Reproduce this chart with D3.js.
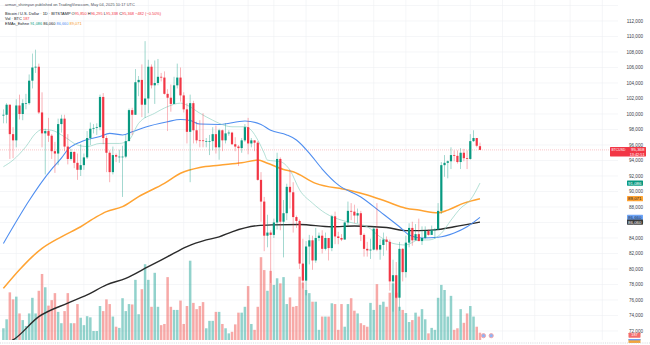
<!DOCTYPE html>
<html><head><meta charset="utf-8">
<script src="https://cdn.jsdelivr.net/npm/d3@7"></script>
<style>html,body{margin:0;padding:0;background:#fff;overflow:hidden}svg{display:block;font-family:"Liberation Sans",Arial,sans-serif}</style>
</head><body><svg id="c" width="650" height="345"></svg>
<script>
// ---- DATA (prices in thousands USD, daily candles Dec 7 2024 .. May 4 2025) ----
const open = [99.8,99.9,101.2,97.4,96.6,101.1,100.0,101.4,101.4,104.3,106.0,106.1,100.2,97.5,97.8,97.2,95.2,94.9,98.7,99.4,95.8,94.2,95.1,93.7,92.8,93.4,94.4,96.9,98.1,98.2,98.3,102.2,96.9,95.0,92.5,94.7,94.5,94.5,94.5,96.5,100.5,99.9,104.1,104.4,101.2,102.0,106.1,103.7,104.0,104.8,104.7,102.6,102.1,101.3,103.7,104.7,102.4,100.6,97.7,101.4,97.9,96.6,96.6,96.5,96.5,96.5,97.4,95.7,97.9,96.6,97.5,97.6,96.1,95.8,95.6,96.6,98.3,96.2,96.6,96.3,91.5,88.7,84.3,84.7,84.4,86.0,94.2,86.1,87.2,90.6,89.9,86.7,86.2,80.7,78.5,82.9,83.7,81.1,84.0,84.3,82.6,84.0,82.7,86.8,84.2,84.0,83.8,86.0,87.5,87.4,86.9,87.2,84.4,82.6,82.4,82.5,85.2,82.5,83.1,83.8,83.5,78.4,79.2,76.3,82.6,79.6,83.4,85.3,83.7,84.5,83.6,84.0,84.9,84.4,85.0,85.1,87.5,93.4,93.7,93.9,94.7,94.6,93.8,95.0,94.3,94.2,96.5,96.9,95.85];
const high = [100.6,101.4,101.2,98.3,101.9,102.5,101.9,102.6,105.1,107.8,108.3,106.5,102.8,98.1,99.5,97.4,96.4,99.4,99.9,99.9,97.4,95.5,95.2,94.9,96.1,94.9,97.8,98.9,98.7,98.8,102.5,102.7,97.2,95.3,95.8,94.9,95.4,95.9,97.3,100.7,100.8,105.8,104.9,106.4,109.4,107.0,106.4,106.9,107.1,105.3,105.5,103.2,103.8,104.8,106.5,106.0,102.8,101.4,102.5,101.7,99.0,99.2,100.1,96.9,97.3,98.3,98.5,98.1,98.0,98.8,97.9,97.7,97.0,96.0,96.9,98.7,99.5,96.9,96.6,96.5,92.5,89.3,87.0,85.0,86.5,95.0,94.4,88.9,91.0,92.8,91.2,86.9,86.4,83.9,83.6,84.4,84.3,85.3,84.7,85.0,84.7,84.0,87.0,87.4,84.8,84.5,86.1,88.7,88.5,88.3,87.8,87.5,84.6,83.5,83.9,85.5,88.5,83.9,84.7,84.2,83.8,81.2,80.9,83.5,82.7,84.3,85.9,86.1,85.8,86.5,85.5,85.5,85.1,85.6,85.3,88.5,93.8,94.7,94.0,95.7,95.3,95.3,95.6,95.5,95.3,97.4,97.9,96.9,96.3];
const low = [98.8,98.8,94.2,94.3,95.7,99.3,99.2,100.6,101.2,103.3,105.3,100.0,95.7,92.2,96.4,94.2,92.4,93.4,97.6,95.2,93.5,94.0,93.0,91.5,92.0,92.8,94.2,96.0,97.5,97.3,97.9,96.1,92.5,91.2,92.2,93.8,93.7,89.3,94.3,96.5,97.3,99.9,102.3,99.6,99.5,100.1,103.3,101.3,103.7,104.2,102.5,97.8,100.3,101.3,103.3,101.6,100.2,96.2,91.2,96.2,96.2,95.7,95.7,95.7,94.7,95.3,94.9,94.1,95.2,96.2,97.2,96.0,95.2,93.3,95.0,96.4,94.8,95.7,95.2,91.4,86.1,82.3,82.8,78.2,84.0,85.1,85.0,81.5,86.3,87.8,84.7,85.3,80.0,77.5,76.6,80.6,79.9,80.8,83.6,82.0,82.4,81.1,82.3,83.2,83.2,83.6,83.8,85.6,86.3,85.9,85.9,83.6,81.6,81.6,81.3,82.4,82.3,81.2,81.7,82.4,77.2,74.5,76.2,74.6,78.4,78.9,82.8,83.0,83.7,83.6,83.1,83.9,84.3,84.4,83.9,85.1,87.1,91.9,91.7,92.9,93.9,93.6,92.9,93.9,92.9,94.1,96.4,95.7,95.34];
const close = [99.9,101.2,97.4,96.6,101.1,100.0,101.4,101.4,104.3,106.0,106.1,100.2,97.5,97.8,97.2,95.2,94.9,98.7,99.4,95.8,94.2,95.1,93.7,92.8,93.4,94.4,96.9,98.1,98.2,98.3,102.2,96.9,95.0,92.5,94.7,94.5,94.5,94.5,96.5,100.5,99.9,104.1,104.4,101.2,102.0,106.1,103.7,104.0,104.8,104.7,102.6,102.1,101.3,103.7,104.7,102.4,100.6,97.7,101.4,97.9,96.6,96.55,96.5,96.5,96.5,97.4,95.7,97.9,96.6,97.5,97.6,96.1,95.8,95.6,96.6,98.3,96.2,96.6,96.3,91.5,88.7,84.3,84.7,84.4,86.0,94.2,86.1,87.2,90.6,89.9,86.7,86.2,80.7,78.5,82.9,83.7,81.1,84.0,84.3,82.6,84.0,82.7,86.8,84.2,84.0,83.8,86.0,87.5,87.4,86.9,87.2,84.4,82.6,82.4,82.5,85.2,82.5,83.1,83.8,83.5,78.4,79.2,76.3,82.6,79.6,83.4,85.3,83.7,84.5,83.6,84.0,84.9,84.4,85.0,85.1,87.5,93.4,93.7,93.9,94.7,94.6,93.8,95.0,94.3,94.2,96.5,96.9,95.9,95.368];
// volume in BTC
const volume = [300,530,1220,1040,1110,680,510,360,680,1080,680,1260,1690,1350,880,1020,1200,720,430,740,1200,430,430,920,570,380,610,580,230,230,870,740,1040,920,600,340,310,1070,740,920,910,1540,660,1300,1940,1540,850,1720,850,380,410,1610,850,770,770,1010,410,870,2030,950,790,870,970,300,490,490,720,720,410,300,170,210,400,700,700,850,1380,410,260,850,2120,1790,1260,1770,1410,1580,1450,1610,920,1090,850,870,1620,1470,1280,1200,980,980,260,600,600,600,940,920,260,920,340,920,1070,750,680,430,380,340,950,770,1430,900,980,850,1210,1450,1210,850,770,690,460,510,700,600,790,530,170,310,260,1080,1410,1280,600,1130,260,300,790,440,680,870,600,340,187];
// EMA readings: [day index, value in thousands]
const emaFast = [[0,93.2],[3,94.05],[7,95.8],[10,97.5],[12,98.0],[15,97.9],[19,97.05],[23,96.0],[26,95.8],[30,96.2],[36,96.2],[39,96.65],[42,98.8],[47,100.1],[51,100.95],[55,101.4],[57,101.15],[61,100.1],[65,99.2],[67,98.8],[71,98.35],[75,98.35],[77,97.9],[79,96.65],[81,94.95],[82,94.05],[86,93.85],[89,92.75],[92,90.2],[96,88.5],[100,87.2],[105,86.3],[109,85.9],[113,85.45],[117,84.15],[121,83.3],[125,83.1],[129,83.75],[132,83.75],[136,84.6],[139,86.3],[142,87.85],[145,88.9],[148,91.086]];
const emaBlue = [[0,83.3],[15,92.9],[18,94.3],[20,95.4],[24,96.4],[30,97.1],[33,97.5],[37,97.3],[40,97.7],[44,98.3],[51,99.0],[55,99.3],[58,99.15],[61,98.7],[67,98.65],[75,99.1],[80,98.65],[83,97.9],[88,97.3],[91,96.65],[95,94.95],[99,92.9],[104,90.85],[111,89.3],[117,87.4],[123,85.45],[126,84.4],[130,84.0],[135,84.1],[140,84.65],[144,85.45],[148,86.66]];
const emaOrange = [[0,77.5],[5,79.9],[9,81.6],[12,82.65],[18,84.15],[24,85.45],[29,86.75],[32,87.4],[37,88.05],[42,89.35],[50,91.05],[55,92.35],[61,93.1],[67,93.4],[74,93.7],[79,94.05],[82,93.65],[87,92.85],[90,92.55],[97,91.05],[107,90.2],[113,89.55],[119,88.7],[125,87.85],[129,87.6],[135,87.25],[138,87.6],[143,88.5],[148,89.071]];
const emaBlack = [[0,70.3],[3,70.85],[11,73.85],[20,75.6],[26,76.65],[32,77.95],[38,78.8],[45,80.3],[51,81.6],[57,82.9],[63,83.75],[67,84.15],[71,84.8],[79,85.6],[84,85.7],[92,85.75],[102,85.45],[109,85.55],[119,85.35],[125,84.95],[129,84.95],[134,85.05],[140,85.45],[148,86.06]];
const priceTicks = [72,74,76,78,80,82,84,86,88,90,92,94,96,98,100,102,104,106,108,110,112];
const gridPrices = [72,74,76,78,80,82,84,86,88,90,92,94,96,98,100,102,104,106,108,110,112,114];
const gridDays = [-6,4,14,25,35,45,56,66,76,84,94,104,115,125,135,145,155,165,176,186];
const lastPrice = 95.368;

// ---- CHART ----
const svg = d3.select('#c');
const plotRight = 618, volBase = 340;
const x = d3.scaleLinear().domain([0,148]).range([3.4,479.96]);
const y = d3.scaleLinear().domain([72,112]).range([331,21]);
const vy = d3.scaleLinear().domain([0,2560]).range([volBase,volBase-100]);
const fmt = d => d3.format(',')(Math.round(d*1000));
const GREEN='#089981', RED='#f23645';

svg.append('rect').attr('width',650).attr('height',345).attr('fill','#fff');
svg.append('defs').append('clipPath').attr('id','plot').append('rect')
  .attr('x',0).attr('y',0).attr('width',plotRight).attr('height',volBase);

// grid
svg.append('g').selectAll('line').data(gridPrices).join('line')
  .attr('x1',0).attr('x2',plotRight).attr('y1',d=>y(d)).attr('y2',d=>y(d))
  .attr('stroke','#eef0f4').attr('stroke-width',0.6);
svg.append('g').selectAll('line').data(gridDays).join('line')
  .attr('x1',d=>x(d)).attr('x2',d=>x(d)).attr('y1',0).attr('y2',volBase)
  .attr('stroke','#eef0f4').attr('stroke-width',0.6);

const data = open.map((o,i)=>({i,o,h:high[i],l:low[i],c:close[i],v:volume[i]}));
const isUp = d => d.c >= d.o;

// volume
svg.append('g').selectAll('rect').data(data).join('rect')
  .attr('x',d=>x(d.i)-1.25).attr('width',2.5)
  .attr('y',d=>vy(d.v)).attr('height',d=>volBase-vy(d.v))
  .attr('fill',d=>isUp(d)?'rgba(38,166,154,0.5)':'rgba(239,83,80,0.5)');

// event markers
svg.append('g').selectAll('circle').data([149.1,151.5]).join('circle')
  .attr('cx',d=>x(d)).attr('cy',335.7).attr('r',2.1)
  .attr('fill','#8fb4f5').attr('stroke','#f7a0a0').attr('stroke-width',0.9);

// current price line
svg.append('line').attr('x1',0).attr('x2',610).attr('y1',y(lastPrice)).attr('y2',y(lastPrice))
  .attr('stroke',RED).attr('stroke-width',0.6).attr('stroke-dasharray','0.8,1.2').attr('opacity',0.6);

// EMAs
const line = d3.line().x(d=>x(d[0])).y(d=>y(d[1])).curve(d3.curveMonotoneX);
const gE = svg.append('g').attr('clip-path','url(#plot)');
gE.append('path').attr('d',line(emaBlack)).attr('fill','none').attr('stroke','#2b2b2b').attr('stroke-width',1.4);
gE.append('path').attr('d',line(emaOrange)).attr('fill','none').attr('stroke','#ffa332').attr('stroke-width',1.5);
gE.append('path').attr('d',line(emaBlue)).attr('fill','none').attr('stroke','#4f8ef0').attr('stroke-width',1.1);
gE.append('path').attr('d',line(emaFast)).attr('fill','none').attr('stroke','#93d3c4').attr('stroke-width',0.7);

// candles
const gC = svg.append('g');
gC.selectAll('line').data(data).join('line')
  .attr('x1',d=>x(d.i)).attr('x2',d=>x(d.i)).attr('y1',d=>y(d.h)).attr('y2',d=>y(d.l))
  .attr('stroke',d=>isUp(d)?GREEN:RED).attr('stroke-width',0.7).attr('opacity',0.55);
gC.selectAll('rect').data(data).join('rect')
  .attr('x',d=>x(d.i)-1.1).attr('width',2.2)
  .attr('y',d=>y(Math.max(d.o,d.c))).attr('height',d=>Math.max(0.7,Math.abs(y(d.o)-y(d.c))))
  .attr('fill',d=>isUp(d)?GREEN:RED);

// price axis
const ax = svg.append('g').attr('transform','translate(643,0)')
  .call(d3.axisRight(y).tickValues(priceTicks).tickFormat(fmt).tickSize(0).tickPadding(0));
ax.select('.domain').remove();
ax.selectAll('text').attr('text-anchor','end').attr('x',0).attr('font-size',4.6)
  .attr('fill','#3a3e4a').attr('font-family','"Liberation Sans",Arial,sans-serif');

// axis labels (overlay)
function tag(yv, bg, fg, txt, x0, x1){
  const yy = y(yv);
  svg.append('rect').attr('x',x0).attr('y',yy-2.6).attr('width',x1-x0).attr('height',5.2).attr('rx',0.6).attr('fill',bg);
  svg.append('text').attr('x',x1-1.5).attr('y',yy+1.6).attr('text-anchor','end').attr('font-size',4.4).attr('fill',fg).text(txt);
}
// red current price tag (two lines)
{
  const yy = y(lastPrice);
  svg.append('rect').attr('x',610).attr('y',yy-2.8).attr('width',36).attr('height',9.3).attr('rx',0.6).attr('fill',RED);
  svg.append('text').attr('x',611.5).attr('y',yy+1.6).attr('font-size',3.4).attr('fill','#fff').text('BTCUSD');
  svg.append('text').attr('x',644.5).attr('y',yy+1.6).attr('text-anchor','end').attr('font-size',4.4).attr('fill','#fff').text(fmt(lastPrice));
  svg.append('text').attr('x',644.5).attr('y',yy+5.9).attr('text-anchor','end').attr('font-size',3.8).attr('fill','#fff').text('13:42:51');
}
tag(emaFast[emaFast.length-1][1], GREEN, '#fff', fmt(emaFast[emaFast.length-1][1]), 627, 643);
tag(emaOrange[emaOrange.length-1][1], '#ffa332', '#222', fmt(emaOrange[emaOrange.length-1][1]), 627, 643);
tag(emaBlue[emaBlue.length-1][1], '#6fa5f5', '#1a2a4a', fmt(emaBlue[emaBlue.length-1][1]), 627, 643);
tag(emaBlack[emaBlack.length-1][1], '#3a3a3a', '#fff', fmt(emaBlack[emaBlack.length-1][1]), 627, 643);
// volume tag
svg.append('rect').attr('x',628.5).attr('y',332.7).attr('width',12).attr('height',5).attr('rx',0.6).attr('fill','#f36c6a');
svg.append('text').attr('x',634.5).attr('y',336.4).attr('text-anchor','middle').attr('font-size',3.8).attr('fill','#fff').text(volume[volume.length-1]);
svg.append('rect').attr('x',628.5).attr('y',339).attr('width',12).attr('height',4).attr('fill','#f5a53a');
svg.append('rect').attr('x',628.5).attr('y',339).attr('width',12).attr('height',1.4).attr('fill','#6f9ef3');

// bottom dashed separator
svg.append('line').attr('x1',0).attr('x2',650).attr('y1',343).attr('y2',343)
  .attr('stroke','#b8bcc6').attr('stroke-width',0.6).attr('stroke-dasharray','1,1.2');

// header
const hdr = svg.append('g').attr('font-size',3.95).attr('fill','#131722');
hdr.append('text').attr('x',5).attr('y',6.4).attr('fill','#50535e').text('arman_shirinyan published on TradingView.com, May 04, 2025 10:17 UTC');
const l2 = hdr.append('text').attr('x',5).attr('y',14.6);
l2.append('tspan').text('Bitcoin / U.S. Dollar · 1D · BITSTAMP ');
[['O','95,850'],['H','96,295'],['L','95,338'],['C','95,368']].forEach(([k,v])=>{
  l2.append('tspan').text(k); l2.append('tspan').attr('fill',RED).text(v+' ');
});
l2.append('tspan').attr('fill',RED).text('−482 (−0.50%)');
const l3 = hdr.append('text').attr('x',5).attr('y',20.1);
l3.append('tspan').text('Vol · BTC ');
l3.append('tspan').attr('fill',RED).text(volume[volume.length-1]);
const l4 = hdr.append('text').attr('x',5).attr('y',25.4);
l4.append('tspan').text('EMAs_Eohne ');
l4.append('tspan').attr('fill',GREEN).text(fmt(emaFast[emaFast.length-1][1])+' ');
l4.append('tspan').attr('fill','#131722').text(fmt(emaBlack[emaBlack.length-1][1])+' ');
l4.append('tspan').attr('fill','#4f8ef0').text(fmt(emaBlue[emaBlue.length-1][1])+' ');
l4.append('tspan').attr('fill','#f59a1c').text(fmt(emaOrange[emaOrange.length-1][1]));
</script></body></html>
